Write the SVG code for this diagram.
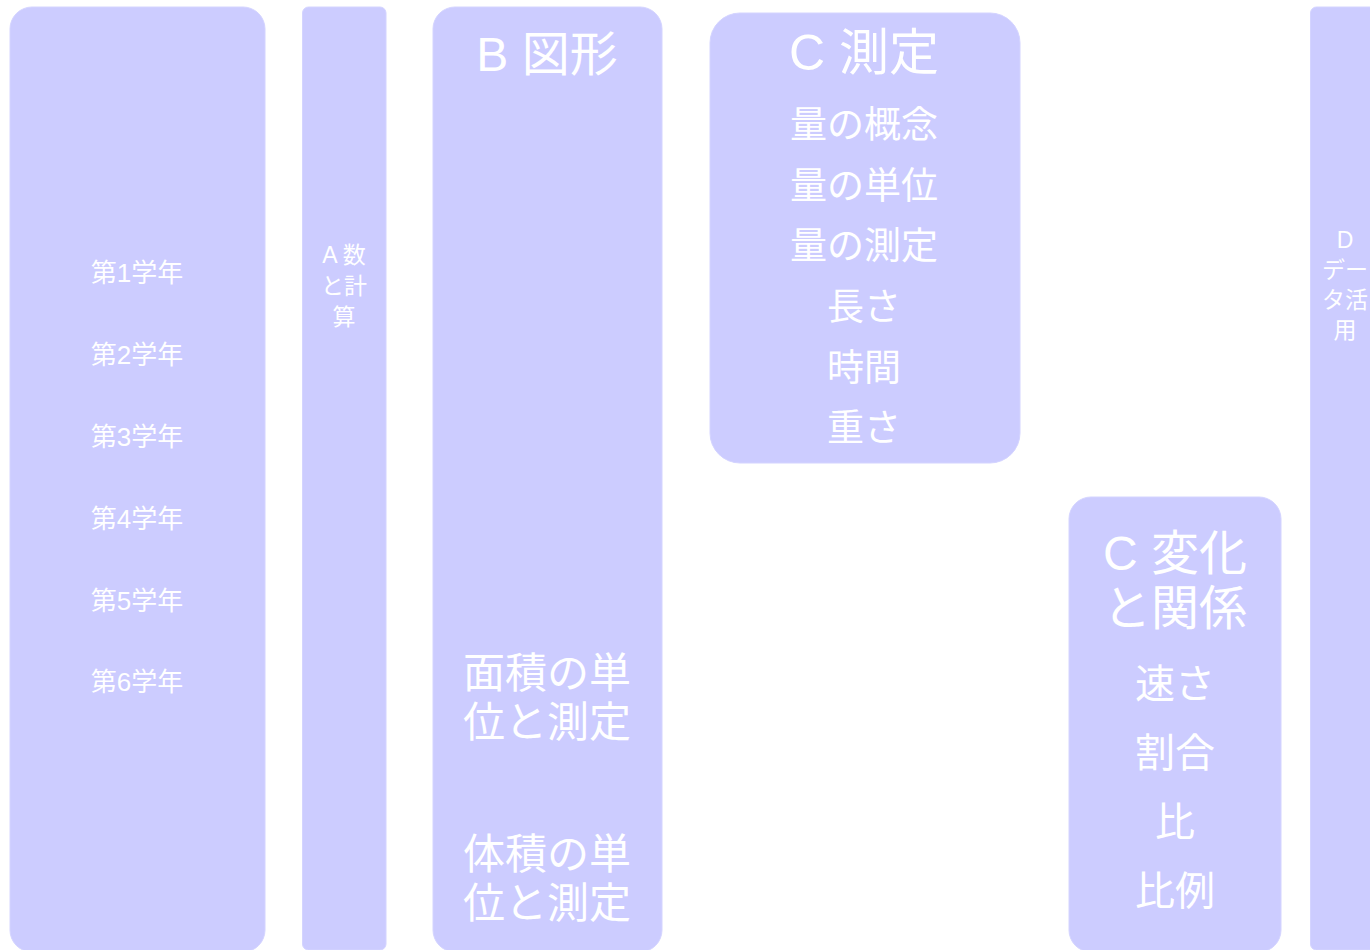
<svg xmlns="http://www.w3.org/2000/svg" width="1370" height="950" viewBox="0 0 1370 950">
<style>
.box{fill:#ccccff;stroke:#d4d4ff;stroke-width:1}
text{fill:#ffffff;font-family:"Liberation Sans","Noto Sans CJK JP",sans-serif;text-anchor:middle}
.s{font-size:26px}
.a{font-size:23px}
.h{font-size:48px}
.hc{font-size:50px}
.m{font-size:42px}
.r{font-size:40px}
.i{font-size:37px}
</style>
<rect width="1370" height="950" fill="#ffffff"/>
<g id="grades">
<rect class="box" x="10" y="7" width="255" height="945" rx="22"/>
<text class="s" x="137" y="282">第1学年</text>
<text class="s" x="137" y="364">第2学年</text>
<text class="s" x="137" y="446">第3学年</text>
<text class="s" x="137" y="528">第4学年</text>
<text class="s" x="137" y="610">第5学年</text>
<text class="s" x="137" y="691">第6学年</text>
</g>
<g id="A">
<rect class="box" x="302.5" y="7" width="83.5" height="943" rx="6"/>
<text class="a" x="344" y="263">A 数</text>
<text class="a" x="344" y="294">と計</text>
<text class="a" x="344" y="325">算</text>
</g>
<g id="B">
<rect class="box" x="433" y="7" width="229" height="945" rx="22"/>
<text class="h" x="547" y="71">B 図形</text>
<text class="m" x="547" y="688">面積の単</text>
<text class="m" x="547" y="737">位と測定</text>
<text class="m" x="547" y="869">体積の単</text>
<text class="m" x="547" y="918">位と測定</text>
</g>
<g id="C1">
<rect class="box" x="710" y="13" width="310" height="450" rx="30"/>
<text class="hc" x="864" y="70">C 測定</text>
<text class="i" x="864" y="138">量の概念</text>
<text class="i" x="864" y="199">量の単位</text>
<text class="i" x="864" y="259">量の測定</text>
<text class="i" x="864" y="320">長さ</text>
<text class="i" x="864" y="381">時間</text>
<text class="i" x="864" y="441">重さ</text>
</g>
<g id="C2">
<rect class="box" x="1069" y="497" width="212" height="455" rx="22"/>
<text class="h" x="1175" y="570">C 変化</text>
<text class="h" x="1175" y="625">と関係</text>
<text class="r" x="1175" y="698">速さ</text>
<text class="r" x="1175" y="767">割合</text>
<text class="r" x="1175" y="836">比</text>
<text class="r" x="1175" y="905">比例</text>
</g>
<g id="D">
<rect class="box" x="1310.5" y="7" width="80" height="943" rx="6"/>
<text class="a" x="1345" y="248">D</text>
<text class="a" x="1345" y="278">デー</text>
<text class="a" x="1345" y="308">タ活</text>
<text class="a" x="1345" y="338">用</text>
</g>
<g id="connectors"></g>
</svg>
